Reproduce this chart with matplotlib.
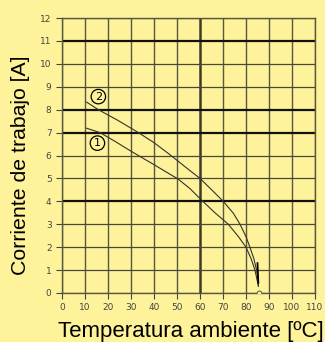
import matplotlib.pyplot as plt
import numpy as np

# curva 2 (superior) y curva 1 (inferior)
temp2 = [10.7, 15.8, 24, 33.2, 40, 47, 54.5, 60, 65.1, 70.1, 74.5, 77.4, 80, 81.7, 83.4, 84.6, 85.4]
corr2 = [8.33, 8.0, 7.55, 7.0, 6.56, 6.03, 5.43, 5.0, 4.5, 4.0, 3.48, 3.0, 2.46, 2.0, 1.5, 1.0, 0.3]
temp1 = [10.7, 16.5, 23, 30.3, 40, 45, 50.5, 55.7, 60.7, 66.5, 72.3, 76.7, 80, 82.2, 83.9, 85.4]
corr1 = [7.19, 7.0, 6.62, 6.17, 5.6, 5.3, 4.97, 4.55, 4.05, 3.5, 3.0, 2.46, 2.0, 1.5, 1.0, 0.3]

xticks = np.arange(0, 111, 10)
yticks = np.arange(0, 13, 1)
thick_y = [4, 7, 8, 11]
thick_x = [60]

bg = '#FEF29A'
fig = plt.figure(figsize=(3.25, 3.42), dpi=100, facecolor=bg)
ax = fig.add_axes([62/325, 49/342, 253/325, 275/342], facecolor=bg)

for x in xticks:
    lw = 1.8 if x in thick_x else 1.0
    ax.axvline(x, color='#3c3a28' if x in thick_x else '#5a5840', lw=lw, zorder=1)
for y in yticks:
    lw = 1.6 if y in thick_y else 0.9
    ax.axhline(y, color='#111111' if y in thick_y else '#4a4838', lw=lw, zorder=1)

ax.plot(temp2, corr2, color='#333333', lw=0.8, zorder=3)
ax.plot(temp1, corr1, color='#333333', lw=0.8, zorder=3)
ax.plot([85.0, 85.35], [1.3, 0.45], color='black', lw=1.3, zorder=4)
ax.plot([85.5], [0], marker='o', ms=3.5, mfc=bg, mec='#555555', mew=0.7, zorder=5)

# marcas de las curvas
ax.text(15.8, 8.57, '2', ha='center', va='center', fontsize=8, zorder=6,
        bbox=dict(boxstyle='circle,pad=0.2', fc=bg, ec='black', lw=0.9))
ax.text(15.4, 6.54, '1', ha='center', va='center', fontsize=8, zorder=6,
        bbox=dict(boxstyle='circle,pad=0.2', fc=bg, ec='black', lw=0.9))

ax.set_xlim(0, 110)
ax.set_ylim(0, 12)
ax.set_xticks(xticks)
ax.set_yticks(yticks)
ax.tick_params(labelsize=6.5, colors='#444444', length=4, width=0.8)
for s in ax.spines.values():
    s.set_color('#5a5840')
    s.set_linewidth(1.0)

fig.text(191/325, 1 - 331/342, 'Temperatura ambiente [ºC]', ha='center', va='center',
         fontsize=16, family='Liberation Sans', color='black')
fig.text(21/325, 1 - 165/342, 'Corriente de trabajo [A]', ha='center', va='center',
         rotation=90, fontsize=15.3, family='Liberation Sans', color='black')

plt.savefig('out.png', dpi=100, facecolor=bg)
